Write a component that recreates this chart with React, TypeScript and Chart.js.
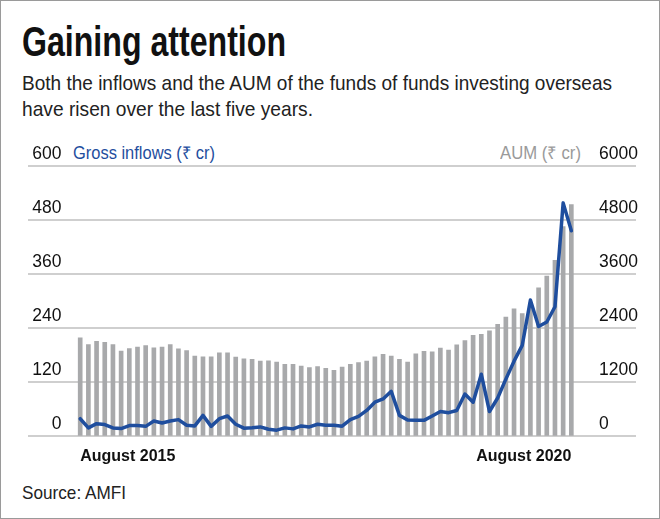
import React, { useEffect, useLayoutEffect, useRef } from "react";
import { Chart, registerables } from "chart.js";

Chart.register(...registerables);

// Months Aug 2015 .. Aug 2020 (61 monthly points)
const monthNames = ["Jan","Feb","Mar","Apr","May","Jun","Jul","Aug","Sep","Oct","Nov","Dec"];
const months: string[] = [];
for (let i = 0; i < 61; i++) {
  const m = (7 + i) % 12;
  const y = 2015 + Math.floor((7 + i) / 12);
  months.push(`${monthNames[m]} ${y}`);
}

// AUM (₹ cr), right axis
const aum = [
  2176, 2029, 2103, 2081, 2029, 1883, 1941, 1971, 2007, 1956,
  1971, 2029, 1934, 1897, 1773, 1758, 1758, 1846, 1846, 1751,
  1714, 1700, 1663, 1670, 1641, 1590, 1590, 1553, 1517, 1539,
  1502, 1458, 1531, 1590, 1627, 1663, 1758, 1810, 1773, 1700,
  1641, 1824, 1880, 1865, 1950, 1905, 2022, 2117, 2235, 2257,
  2337, 2477, 2638, 2821, 2718, 2950, 3290, 3554, 3905, 4652,
  5143,
];

// Gross inflows (₹ cr), left axis
const inflows = [
  38, 17.6, 27, 25, 17.6, 16, 22.7, 22.7, 21, 33,
  28.6, 33, 36, 23.4, 22, 45.4, 21, 38, 44, 25.6,
  17, 18, 19.8, 14.7, 12.5, 17.6, 15.4, 22, 19.8, 25.7,
  23.4, 23.4, 21.3, 35.9, 43.2, 56.4, 74.7, 82, 98.9, 45.4,
  35, 34.4, 34.4, 44, 54, 51.5, 56.4, 93, 74.7, 137,
  54, 84, 126, 166, 201, 302, 243, 253, 287, 518,
  456,
];

const xTickIndices = [0, 60];
const xTickLabels = ["August 2015", "August 2020"];
const leftTicks = [0, 120, 240, 360, 480, 600];
const rightTicks = [0, 1200, 2400, 3600, 4800, 6000];

const FONT = '"Liberation Sans", Arial, sans-serif';
const BLUE = "#1f4e9e";
const GREY_BAR = "#a8a9ab";

function FitText(props: { left: number; top: number; width: number; style: React.CSSProperties; children: React.ReactNode }) {
  const r = useRef<HTMLDivElement | null>(null);
  useLayoutEffect(() => {
    const el = r.current;
    if (!el) return;
    el.style.transform = "none";
    const w = el.getBoundingClientRect().width;
    if (w > 0) el.style.transform = `scaleX(${props.width / w})`;
  });
  return (
    <div
      ref={r}
      style={{
        position: "absolute",
        left: props.left,
        top: props.top,
        whiteSpace: "nowrap",
        fontFamily: FONT,
        transformOrigin: "left top",
        ...props.style,
      }}
    >
      {props.children}
    </div>
  );
}

export default function App() {
  const ref = useRef<HTMLCanvasElement | null>(null);

  useEffect(() => {
    document.body.style.margin = "0";
    if (!ref.current) return;
    const chart = new Chart(ref.current, {
      type: "bar",
      data: {
        datasets: [
          {
            type: "line",
            label: "Gross inflows (₹ cr)",
            data: inflows.map((v, i) => ({ x: i, y: v })),
            borderColor: BLUE,
            borderWidth: 3.5,
            pointRadius: 0,
            tension: 0,
            yAxisID: "yL",
            order: 0,
            borderJoinStyle: "round",
            borderCapStyle: "round",
          } as any,
          {
            type: "bar",
            label: "AUM (₹ cr)",
            data: aum.map((v, i) => ({ x: i, y: v })),
            backgroundColor: GREY_BAR,
            barThickness: 4,
            yAxisID: "yR",
            order: 1,
          } as any,
        ],
      },
      options: {
        animation: false,
        responsive: false,
        maintainAspectRatio: false,
        layout: { padding: { left: 20.3, right: 20, top: 46, bottom: 3 } },
        plugins: { legend: { display: false }, tooltip: { enabled: false } },
        scales: {
          x: {
            type: "linear",
            min: -6.34,
            max: 67.9,
            offset: false,
            grid: { display: false, drawTicks: false },
            border: { display: false },
            afterBuildTicks: (scale: any) => {
              scale.ticks = xTickIndices.map((v) => ({ value: v }));
            },
            ticks: {
              autoSkip: false,
              maxRotation: 0,
              align: "inner",
              padding: 11,
              color: "#111",
              font: { family: FONT, size: 16, weight: "bold" },
              callback: (value: any) => {
                const k = xTickIndices.indexOf(Number(value));
                return k >= 0 ? xTickLabels[k] : "";
              },
            },
          },
          yL: {
            type: "linear",
            position: "left",
            min: 0,
            max: 600,
            afterBuildTicks: (scale: any) => {
              scale.ticks = leftTicks.map((v) => ({ value: v }));
            },
            grid: { color: "#cfcfcf", lineWidth: 2, drawTicks: false },
            border: { display: false },
            ticks: {
              mirror: true,
              crossAlign: "far",
              padding: 4,
              labelOffset: -12,
              color: "#111",
              font: { family: FONT, size: 17.5 },
              callback: (v: any) => String(v),
            },
          },
          yR: {
            type: "linear",
            position: "right",
            min: 0,
            max: 6000,
            afterBuildTicks: (scale: any) => {
              scale.ticks = rightTicks.map((v) => ({ value: v }));
            },
            grid: { display: false, drawTicks: false },
            border: { display: false },
            ticks: {
              mirror: true,
              crossAlign: "far",
              padding: 2,
              labelOffset: -12,
              color: "#111",
              font: { family: FONT, size: 17.5 },
              callback: (v: any) => String(v),
            },
          },
        },
      },
    });
    return () => chart.destroy();
  }, []);

  return (
    <div
      style={{
        position: "relative",
        width: 660,
        height: 519,
        boxSizing: "border-box",
        border: "1px solid #9a9a9a",
        background: "#fff",
        overflow: "hidden",
      }}
    >
      <FitText left={21} top={19.5} width={264} style={{ fontSize: 42, fontWeight: "bold", color: "#111", lineHeight: "42px" }}>
        Gaining attention
      </FitText>
      <FitText left={21} top={68.7} width={590} style={{ fontSize: 21, color: "#222", lineHeight: "26px" }}>
        Both the inflows and the AUM of the funds of funds investing overseas
      </FitText>
      <FitText left={21} top={94.7} width={291} style={{ fontSize: 21, color: "#222", lineHeight: "26px" }}>
        have risen over the last five years.
      </FitText>
      <FitText left={72} top={141.6} width={142} style={{ fontSize: 17.5, color: BLUE, lineHeight: "20px" }}>
        Gross inflows (₹ cr)
      </FitText>
      <FitText left={499} top={141.6} width={81} style={{ fontSize: 17.5, color: "#9a9a9a", lineHeight: "20px" }}>
        AUM (₹ cr)
      </FitText>
      <canvas
        ref={ref}
        width={660}
        height={360}
        style={{ position: "absolute", left: -1, top: 119, width: 660, height: 360 }}
      />
      <FitText left={21} top={480.4} width={104} style={{ fontSize: 19, color: "#222", lineHeight: "24px" }}>
        Source: AMFI
      </FitText>
    </div>
  );
}
